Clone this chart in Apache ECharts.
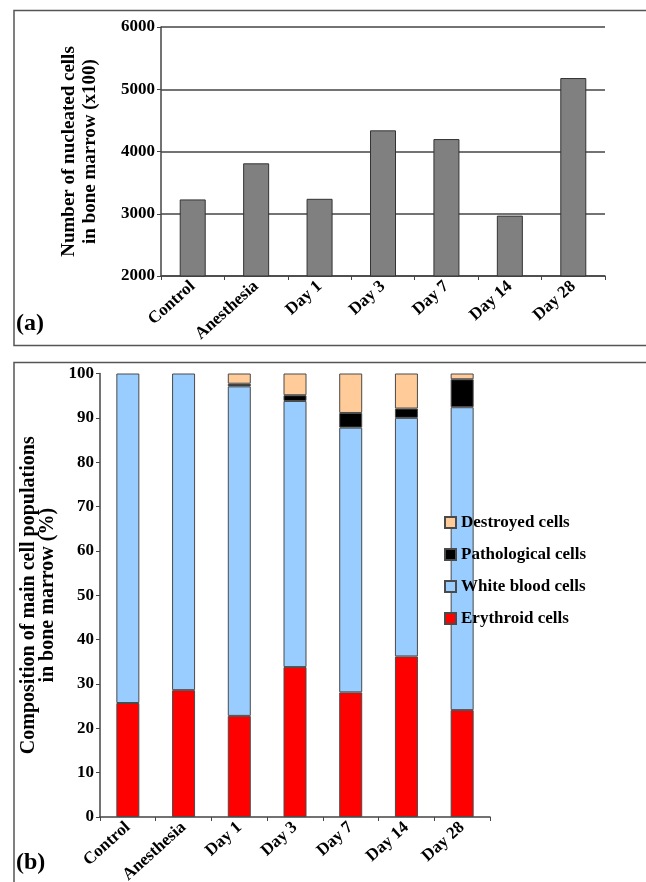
<!DOCTYPE html>
<html><head><meta charset="utf-8">
<script src="https://cdn.jsdelivr.net/npm/echarts@6/dist/echarts.min.js"></script>
<style>html,body{margin:0;padding:0;background:#fff}#c{width:646px;height:882px}</style>
</head><body><div id="c"></div>
<script>
var categories = ['Control','Anesthesia','Day 1','Day 3','Day 7','Day 14','Day 28'];
var nucleatedCells = [3230, 3810, 3240, 4340, 4200, 2970, 5180];
var erythroid = [25.7, 28.6, 22.8, 33.8, 28.1, 36.2, 24.1];
var whiteBlood = [74.3, 71.4, 74.3, 60.0, 59.7, 53.8, 68.3];
var pathological = [null, null, 0.6, 1.3, 3.3, 2.1, 6.3];
var destroyed = [null, null, 2.3, 4.9, 8.9, 7.9, 1.3];
var legendNames = ['Destroyed cells','Pathological cells','White blood cells','Erythroid cells'];

var F = 'Liberation Serif, Times New Roman, serif';
var lbl = {fontFamily:F, fontWeight:'bold', fontSize:17, color:'#000'};
var chart = echarts.init(document.getElementById('c'));
chart.setOption({
  animation:false,
  backgroundColor:'#fff',
  textStyle:{fontFamily:F},
  grid:[
    {left:161, right:41, top:27, height:249, containLabel:false, outerBoundsMode:'none'},
    {left:100, width:390, top:373.5, height:443.5, containLabel:false, outerBoundsMode:'none'}
  ],
  xAxis:[
    {type:'category', gridIndex:0, data:categories,
     axisLine:{lineStyle:{color:'#444', width:1.5}},
     axisTick:{show:true, alignWithLabel:false, length:4, lineStyle:{color:'#444'}},
     axisLabel:Object.assign({rotate:42, margin:8, interval:0}, lbl)},
    {type:'category', gridIndex:1, data:categories,
     axisLine:{lineStyle:{color:'#444', width:1.5}},
     axisTick:{show:true, alignWithLabel:false, length:4, lineStyle:{color:'#444'}},
     axisLabel:Object.assign({rotate:42, margin:8, interval:0}, lbl)}
  ],
  yAxis:[
    {type:'value', gridIndex:0, min:2000, max:6000, interval:1000,
     name:'Number of nucleated cells\nin bone marrow (x100)', nameLocation:'middle', nameGap:60,
     nameTextStyle:{fontFamily:F, fontWeight:'bold', fontSize:19, color:'#000', lineHeight:21},
     axisLine:{show:true, lineStyle:{color:'#444', width:1.5}},
     axisTick:{show:true, length:4, lineStyle:{color:'#444'}},
     axisLabel:Object.assign({margin:6, formatter:function(v){return String(v);}}, lbl),
     splitLine:{show:true, lineStyle:{color:'#444', width:1.5}}},
    {type:'value', gridIndex:1, min:0, max:100, interval:10,
     name:'Composition of main cell populations\nin bone marrow (%)', nameLocation:'middle', nameGap:37,
     nameTextStyle:{fontFamily:F, fontWeight:'bold', fontSize:20, color:'#000', lineHeight:19},
     axisLine:{show:true, lineStyle:{color:'#444', width:1.5}},
     axisTick:{show:true, length:4, lineStyle:{color:'#444'}},
     axisLabel:Object.assign({margin:6}, lbl),
     splitLine:{show:false}}
  ],
  legend:{
    orient:'vertical', left:439, top:509, itemGap:15, itemWidth:11, itemHeight:11,
    icon:'rect', data:legendNames,
    textStyle:{fontFamily:F, fontWeight:'bold', fontSize:17, color:'#000'}
  },
  series:[
    {type:'bar', xAxisIndex:0, yAxisIndex:0, data:nucleatedCells, barWidth:26,
     itemStyle:{color:'#808080', borderColor:'#333', borderWidth:1}},
    {name:'Erythroid cells', type:'bar', stack:'s', xAxisIndex:1, yAxisIndex:1, data:erythroid, barWidth:23,
     itemStyle:{color:'#ff0000', borderColor:'#4a4a4a', borderWidth:1}},
    {name:'White blood cells', type:'bar', stack:'s', xAxisIndex:1, yAxisIndex:1, data:whiteBlood, barWidth:23,
     itemStyle:{color:'#99ccff', borderColor:'#4a4a4a', borderWidth:1}},
    {name:'Pathological cells', type:'bar', stack:'s', xAxisIndex:1, yAxisIndex:1, data:pathological, barWidth:23,
     itemStyle:{color:'#000000', borderColor:'#4a4a4a', borderWidth:1}},
    {name:'Destroyed cells', type:'bar', stack:'s', xAxisIndex:1, yAxisIndex:1, data:destroyed, barWidth:23,
     itemStyle:{color:'#ffcc99', borderColor:'#4a4a4a', borderWidth:1}}
  ],
  graphic:[
    {type:'rect', shape:{x:14, y:10.5, width:660, height:335}, style:{fill:null, stroke:'#555', lineWidth:1.5}, silent:true},
    {type:'rect', shape:{x:14, y:362.5, width:660, height:560}, style:{fill:null, stroke:'#555', lineWidth:1.5}, silent:true},
    {type:'text', left:16, top:312, style:{text:'(a)', font:'bold 24px '+F, fill:'#000'}},
    {type:'text', left:16, top:851, style:{text:'(b)', font:'bold 24px '+F, fill:'#000'}}
  ]
});
</script></body></html>
